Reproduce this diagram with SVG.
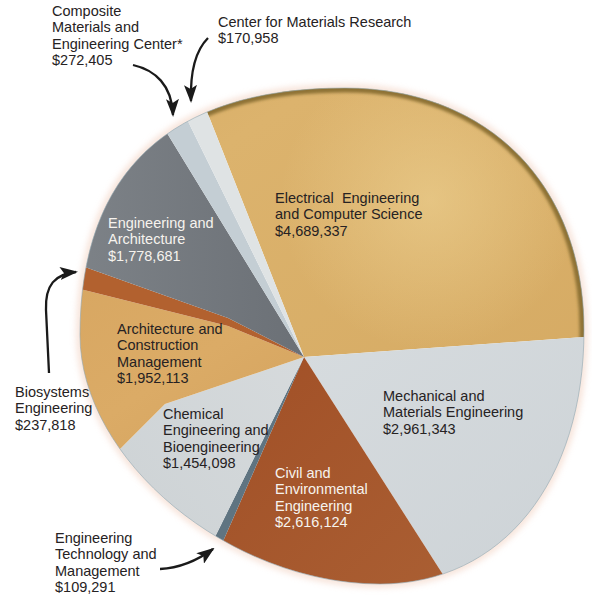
<svg xmlns="http://www.w3.org/2000/svg" width="592" height="598" viewBox="0 0 592 598">
<style>
  text { font-family: "Liberation Sans", Arial, sans-serif; font-size: 14.5px; fill: #262223; }
  .light { fill: #f6f3ee; }
  .wedge { clip-path: url(#disk); }
  .arrow { fill: none; stroke: #1a1a1a; stroke-width: 2.3; marker-end: url(#head); }
</style>
<defs>
  <clipPath id="disk">
    <path d="M80,335 C80,172 170,88 345,88 C488,88 584,185 584,330 C584,482 502,584 380,584 C230,584 80,460 80,335 Z"/>
  </clipPath>
  <clipPath id="eecsClip">
    <polygon points="304,357 11,-384 1200,-400 1142,297"/>
  </clipPath>
  <filter id="blur" x="-10%" y="-10%" width="120%" height="120%">
    <feGaussianBlur stdDeviation="3"/>
  </filter>
  <filter id="soft" x="-10%" y="-10%" width="120%" height="120%">
    <feGaussianBlur stdDeviation="1.5"/>
  </filter>
  <marker id="head" markerUnits="userSpaceOnUse" markerWidth="18" markerHeight="13" refX="16" refY="6.5" orient="auto">
    <path d="M0,0 L18,6.5 L0,13 L4,6.5 Z" fill="#1a1a1a"/>
  </marker>
  <linearGradient id="gEecs" x1="0" y1="0" x2="1" y2="1">
    <stop offset="0" stop-color="#c99a50"/>
    <stop offset="0.45" stop-color="#dcb36d"/>
    <stop offset="0.75" stop-color="#d6ab64"/>
    <stop offset="1" stop-color="#c59350"/>
  </linearGradient>
  <radialGradient id="gHi" cx="430" cy="200" r="150" gradientUnits="userSpaceOnUse">
    <stop offset="0" stop-color="#efd597" stop-opacity="0.55"/>
    <stop offset="1" stop-color="#efd597" stop-opacity="0"/>
  </radialGradient>
  <linearGradient id="gMech" x1="0" y1="0" x2="1" y2="1">
    <stop offset="0" stop-color="#d7dcdf"/>
    <stop offset="0.5" stop-color="#c9cfd3"/>
    <stop offset="1" stop-color="#bfc6ca"/>
  </linearGradient>
  <linearGradient id="gCivil" x1="0" y1="0" x2="1" y2="1">
    <stop offset="0" stop-color="#9e4a22"/>
    <stop offset="0.6" stop-color="#ad6437"/>
    <stop offset="1" stop-color="#b9794b"/>
  </linearGradient>
  <linearGradient id="gChem" x1="1" y1="0" x2="0" y2="1">
    <stop offset="0" stop-color="#d6dadc"/>
    <stop offset="1" stop-color="#bcc4c8"/>
  </linearGradient>
  <linearGradient id="gAcm" x1="0" y1="0" x2="1" y2="1">
    <stop offset="0" stop-color="#d3a15c"/>
    <stop offset="0.5" stop-color="#dbab66"/>
    <stop offset="1" stop-color="#c99752"/>
  </linearGradient>
  <linearGradient id="gEa" x1="0" y1="0" x2="1" y2="0">
    <stop offset="0" stop-color="#767b80"/>
    <stop offset="0.5" stop-color="#83888d"/>
    <stop offset="1" stop-color="#6b7076"/>
  </linearGradient>
</defs>

<!-- soft halo -->
<path d="M80,335 C80,172 170,88 345,88 C488,88 584,185 584,330 C584,482 502,584 380,584 C230,584 80,460 80,335 Z" fill="none" stroke="#f1cdbb" stroke-width="7" opacity="0.6" filter="url(#blur)"/>

<g id="slice-eecs">
  <polygon class="wedge" points="304,357 11,-384 1200,-400 1142,297" fill="url(#gEecs)"/>
  <polygon class="wedge" points="304,357 11,-384 1200,-400 1142,297" fill="url(#gHi)"/>
  <g clip-path="url(#disk)">
    <path clip-path="url(#eecsClip)" d="M80,335 C80,172 170,88 345,88 C488,88 584,185 584,330 C584,482 502,584 380,584 C230,584 80,460 80,335 Z" fill="none" stroke="#8e7236" stroke-width="9" filter="url(#soft)"/>
  </g>
</g>
<g id="slice-mech">
  <polygon class="wedge" points="304,357 1142,297 1200,1000 716,1002" fill="url(#gMech)"/>
</g>
<g id="slice-civil">
  <polygon class="wedge" points="304,357 716,1002 55,924" fill="url(#gCivil)"/>
</g>
<g id="slice-etm">
  <polygon class="wedge" points="304,357 55,924 31,909" fill="#5f7481"/>
</g>
<g id="slice-chem">
  <polygon class="wedge" points="304,357 31,909 -200,680 121,448 165,404" fill="url(#gChem)"/>
</g>
<g id="slice-acm">
  <polygon class="wedge" points="304,357 165,404 121,448 -200,680 -300,300 80,289 228,326" fill="url(#gAcm)"/>
</g>
<g id="slice-bio">
  <polygon class="wedge" points="304,357 228,326 80,289 -300,300 -300,240 82,266 228,318" fill="#b2612f"/>
</g>
<g id="slice-ea">
  <polygon class="wedge" points="304,357 228,318 82,266 -300,240 -109,-318" fill="url(#gEa)"/>
</g>
<g id="slice-composite">
  <polygon class="wedge" points="304,357 -109,-318 -46,-354" fill="#c4ced4"/>
</g>
<g id="slice-cmr">
  <polygon class="wedge" points="304,357 -46,-354 11,-384" fill="#dfe3e4"/>
</g>

<!-- disk outline -->
<path d="M80,335 C80,172 170,88 345,88 C488,88 584,185 584,330 C584,482 502,584 380,584 C230,584 80,460 80,335 Z" fill="none" stroke="#8fa6b0" stroke-width="1" opacity="0.6"/>

<g id="label-eecs">
  <text x="275" y="203">Electrical&#160; Engineering<tspan x="275" dy="16.3">and Computer Science</tspan><tspan x="275" dy="16.3">$4,689,337</tspan></text>
</g>
<g id="label-mech">
  <text x="383" y="401">Mechanical and<tspan x="383" dy="16.3">Materials Engineering</tspan><tspan x="383" dy="16.3">$2,961,343</tspan></text>
</g>
<g id="label-civil">
  <text class="light" x="275" y="478">Civil and<tspan x="275" dy="16.3">Environmental</tspan><tspan x="275" dy="16.3">Engineering</tspan><tspan x="275" dy="16.3">$2,616,124</tspan></text>
</g>
<g id="label-etm">
  <text x="55" y="543">Engineering<tspan x="55" dy="16.3">Technology and</tspan><tspan x="55" dy="16.3">Management</tspan><tspan x="55" dy="16.3">$109,291</tspan></text>
</g>
<g id="label-chem">
  <text x="163" y="419">Chemical<tspan x="163" dy="16.3">Engineering and</tspan><tspan x="163" dy="16.3">Bioengineering</tspan><tspan x="163" dy="16.3">$1,454,098</tspan></text>
</g>
<g id="label-acm">
  <text x="117" y="334">Architecture and<tspan x="117" dy="16.3">Construction</tspan><tspan x="117" dy="16.3">Management</tspan><tspan x="117" dy="16.3">$1,952,113</tspan></text>
</g>
<g id="label-bio">
  <text x="15" y="397">Biosystems<tspan x="15" dy="16.3">Engineering</tspan><tspan x="15" dy="16.3">$237,818</tspan></text>
</g>
<g id="label-ea">
  <text class="light" x="108" y="228">Engineering and<tspan x="108" dy="16.3">Architecture</tspan><tspan x="108" dy="16.3">$1,778,681</tspan></text>
</g>
<g id="label-composite">
  <text x="52" y="16">Composite<tspan x="52" dy="16.3">Materials and</tspan><tspan x="52" dy="16.3">Engineering Center*</tspan><tspan x="52" dy="16.3">$272,405</tspan></text>
</g>
<g id="label-cmr">
  <text x="218" y="26.5">Center for Materials Research<tspan x="218" dy="16.3">$170,958</tspan></text>
</g>

<g id="connectors">
  <path class="arrow" d="M133,65 C155,70 172,85 173,115"/>
  <path class="arrow" d="M208,38 C196,50 190,70 191,101"/>
  <path class="arrow" d="M49,373 L46,310 C45,285 55,274 76,272"/>
  <path class="arrow" d="M160,569 C180,568 198,560 213,549"/>
</g>
</svg>
